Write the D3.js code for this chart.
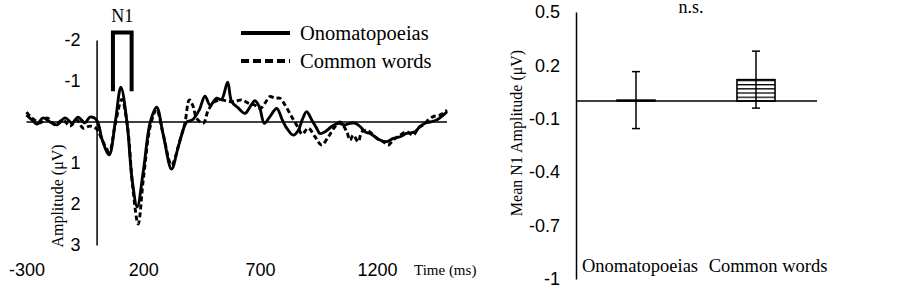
<!DOCTYPE html>
<html>
<head>
<meta charset="utf-8">
<script src="https://cdn.jsdelivr.net/npm/d3@7"></script>
<style>
  body { margin: 0; background: #fff; }
  svg { display: block; font-family: "Liberation Serif", "Times New Roman", serif; }
  .axis text { font-size: 18px; fill: #000; }
</style>
</head>
<body>
<div id="vis"></div>
<script>
// ERP waveforms, [time (ms), amplitude (µV)]
const onomatopoeias = [[-300,-0.17],[-277,-0.05],[-255,0.05],[-229,-0.1],[-199,0],[-170,0.07],[-135,-0.1],[-105,0.02],[-80,-0.12],[-50,0.02],[-28,-0.12],[0,-0.05],[25,0.45],[54,0.8],[80,0],[104,-0.85],[130,0],[152,1.4],[174,2.07],[200,1.2],[230,0],[257,-0.36],[285,0.3],[321,1.15],[350,0.6],[386,0],[410,-0.05],[440,-0.3],[464,-0.63],[486,-0.41],[514,-0.58],[535,-0.55],[561,-0.97],[578,-0.5],[605,-0.35],[635,-0.21],[657,-0.37],[678,-0.52],[697,-0.37],[718,0.03],[742,-0.13],[771,-0.33],[795,-0.05],[814,0.15],[842,0.32],[864,0.2],[880,-0.05],[899,-0.25],[921,-0.05],[942,0.15],[956,0.28],[978,0.24],[1006,0.11],[1035,0.03],[1063,0.07],[1085,0.03],[1106,0.03],[1128,0.11],[1149,0.24],[1170,0.28],[1192,0.36],[1213,0.44],[1242,0.48],[1270,0.4],[1299,0.36],[1327,0.28],[1363,0.24],[1384,0.11],[1406,0.03],[1427,0],[1456,-0.05],[1484,-0.17],[1500,-0.25]];
const commonWords = [[-300,-0.24],[-277,-0.1],[-242,0.02],[-212,-0.1],[-178,0.07],[-144,-0.05],[-114,0.1],[-84,-0.05],[-58,0.15],[-28,0.1],[0,0.17],[25,0.45],[54,0.72],[80,0.05],[108,-0.55],[132,0.1],[155,1.6],[178,2.49],[200,1.4],[232,0.05],[257,-0.3],[285,0.3],[321,1.05],[357,0.44],[378,0.03],[397,-0.54],[414,-0.37],[428,-0.09],[457,0.03],[478,-0.29],[507,-0.5],[535,-0.54],[564,-0.5],[592,-0.5],[621,-0.54],[650,-0.46],[678,-0.41],[700,-0.33],[721,-0.46],[742,-0.62],[764,-0.58],[785,-0.58],[807,-0.41],[835,-0.13],[864,0.15],[880,0.3],[906,0.15],[935,0.36],[963,0.56],[992,0.36],[1021,0.11],[1042,0],[1071,0.24],[1085,0.44],[1099,0.32],[1120,0.48],[1135,0.24],[1156,0.2],[1178,0.28],[1199,0.4],[1227,0.48],[1249,0.56],[1270,0.44],[1299,0.32],[1327,0.24],[1356,0.32],[1377,0.15],[1399,0.07],[1420,-0.05],[1441,-0.13],[1470,-0.17],[1500,-0.29]];
const timeTicks = [-300, 200, 700, 1200];
const ampTicks = [-2, -1, 1, 2, 3];
const n1Window = [70, 150];

// mean N1 amplitude per condition
const categories = ["Onomatopoeias", "Common words"];
const meanN1 = [0.005, 0.12];
const seN1 = [0.16, 0.16];
const barTicks = [0.5, 0.2, -0.1, -0.4, -0.7, -1];

const svg = d3.select("#vis").append("svg").attr("width", 902).attr("height", 289);
svg.append("rect").attr("width", 902).attr("height", 289).attr("fill", "#fff");

// ---------- left: waveforms ----------
const x = d3.scaleLinear().domain([-300, 1500]).range([26.5, 447]);
const y = d3.scaleLinear().domain([-2, 3]).range([40, 245]);

const yAxis = svg.append("g").attr("class", "axis")
  .attr("transform", `translate(${x(0)},0)`)
  .call(d3.axisLeft(y).tickValues(ampTicks).tickSize(0).tickSizeOuter(0).tickPadding(16).tickFormat(d => String(d)));
yAxis.select(".domain").attr("stroke-width", 1.5);

const xAxis = svg.append("g").attr("class", "axis")
  .attr("transform", "translate(0,260)")
  .call(d3.axisBottom(x).tickValues(timeTicks).tickSize(0).tickFormat(d => String(d)));
xAxis.select(".domain").remove();

svg.append("line")
  .attr("x1", x(-300)).attr("x2", x(1500))
  .attr("y1", y(0)).attr("y2", y(0))
  .attr("stroke", "#000").attr("stroke-width", 1.5);

const line = d3.line()
  .x(d => x(d[0]))
  .y(d => y(d[1]))
  .curve(d3.curveCatmullRom.alpha(0.5));

svg.append("path").datum(commonWords)
  .attr("d", line).attr("fill", "none")
  .attr("stroke", "#000").attr("stroke-width", 2.9)
  .attr("stroke-dasharray", "5,3");

svg.append("path").datum(onomatopoeias)
  .attr("d", line).attr("fill", "none")
  .attr("stroke", "#000").attr("stroke-width", 2.9);

// N1 window bracket
svg.append("path")
  .attr("d", `M${x(n1Window[0])},${y(-0.75)}V${y(-2.18)}H${x(n1Window[1])}V${y(-0.75)}`)
  .attr("fill", "none").attr("stroke", "#000").attr("stroke-width", 4);
svg.append("text")
  .attr("x", x(d3.mean(n1Window))).attr("y", 22)
  .attr("text-anchor", "middle").attr("font-size", 18)
  .text("N1");

// legend
const legend = [["Onomatopoeias", null, 33], ["Common words", "8,4", 61]];
legend.forEach(([name, dash, ly]) => {
  svg.append("line")
    .attr("x1", 241).attr("x2", 290).attr("y1", ly).attr("y2", ly)
    .attr("stroke", "#000").attr("stroke-width", 4)
    .attr("stroke-dasharray", dash);
  svg.append("text")
    .attr("x", 300).attr("y", ly + 6.5)
    .attr("font-size", 20.5)
    .text(name);
});

svg.append("text")
  .attr("x", 414).attr("y", 275)
  .attr("font-size", 15)
  .text("Time (ms)");

svg.append("text")
  .attr("transform", "translate(63,196) rotate(-90)")
  .attr("text-anchor", "middle").attr("font-size", 16)
  .text("Amplitude (μV)");

// ---------- right: bar chart ----------
const xb = d3.scaleBand().domain(categories).range([576, 816]).paddingInner(0.683).paddingOuter(0.3415);
const yb = d3.scaleLinear().domain([-1, 0.5]).range([279, 12]);

const ybAxis = svg.append("g").attr("class", "axis")
  .attr("transform", "translate(576,0)")
  .call(d3.axisLeft(yb).tickValues(barTicks).tickSize(0).tickSizeOuter(0).tickPadding(16).tickFormat(d => String(d)));
ybAxis.select(".domain").attr("stroke-width", 1.5);
ybAxis.selectAll("text").attr("font-size", 19);

const defs = svg.append("defs");
const pat = defs.append("pattern")
  .attr("id", "hstripe").attr("patternUnits", "userSpaceOnUse")
  .attr("width", 8).attr("height", 4.2);
pat.append("rect").attr("width", 8).attr("height", 4.2).attr("fill", "#fff");
pat.append("line").attr("x1", 0).attr("x2", 8).attr("y1", 0.6).attr("y2", 0.6)
  .attr("stroke", "#000").attr("stroke-width", 1.4);

const bars = categories.map((c, i) => ({ c, m: meanN1[i], se: seN1[i] }));

svg.selectAll(".bar").data(bars).enter().append("rect")
  .attr("class", "bar")
  .attr("x", d => xb(d.c))
  .attr("y", d => yb(Math.max(0, d.m)))
  .attr("width", xb.bandwidth())
  .attr("height", d => Math.abs(yb(d.m) - yb(0)))
  .attr("fill", "url(#hstripe)")
  .attr("stroke", "#000").attr("stroke-width", 1.6);

svg.append("line")
  .attr("x1", 576).attr("x2", 817)
  .attr("y1", yb(0)).attr("y2", yb(0))
  .attr("stroke", "#000").attr("stroke-width", 1.5);

const eb = svg.selectAll(".err").data(bars).enter().append("g").attr("class", "err")
  .attr("stroke", "#000").attr("stroke-width", 1.5);
eb.append("line")
  .attr("x1", d => xb(d.c) + xb.bandwidth() / 2).attr("x2", d => xb(d.c) + xb.bandwidth() / 2)
  .attr("y1", d => yb(d.m + d.se)).attr("y2", d => yb(d.m - d.se));
[1, -1].forEach(s => {
  eb.append("line")
    .attr("x1", d => xb(d.c) + xb.bandwidth() / 2 - 4).attr("x2", d => xb(d.c) + xb.bandwidth() / 2 + 4)
    .attr("y1", d => yb(d.m + s * d.se)).attr("y2", d => yb(d.m + s * d.se));
});

svg.selectAll(".cat").data(categories).enter().append("text")
  .attr("class", "cat")
  .attr("x", (d, i) => xb(d) + xb.bandwidth() / 2 + (i ? 12 : 4))
  .attr("y", 272)
  .attr("text-anchor", "middle").attr("font-size", 18.5)
  .text(d => d);

svg.append("text")
  .attr("x", 691).attr("y", 13)
  .attr("text-anchor", "middle").attr("font-size", 18)
  .text("n.s.");

svg.append("text")
  .attr("transform", "translate(522,133) rotate(-90)")
  .attr("text-anchor", "middle").attr("font-size", 16)
  .text("Mean N1 Amplitude (μV)");
</script>
</body>
</html>
